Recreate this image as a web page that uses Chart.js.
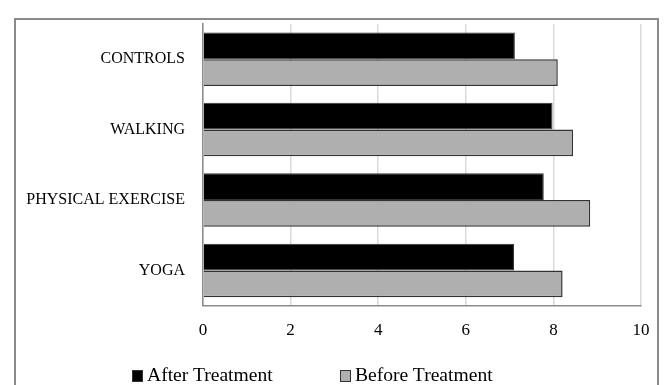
<!DOCTYPE html>
<html>
<head>
<meta charset="utf-8">
<script src="https://cdn.jsdelivr.net/npm/chart.js@4.4.0/dist/chart.umd.min.js"></script>
<style>
  html, body { margin: 0; padding: 0; background: #fff; }
  #wrap { position: relative; width: 665px; height: 385px; overflow: hidden; }
  #frame { position: absolute; left: 14px; top: 18px; width: 645px; height: 400px;
           border: 2px solid #8a8a8a; box-sizing: border-box; }
  #chart { position: absolute; left: 0; top: 0; }
  .leg { position: absolute; top: 364px; font-family: "Liberation Serif", serif;
         font-size: 19.6px; color: #000; white-space: nowrap; line-height: 22px; }
  .leg i { display: inline-block; width: 9px; height: 10px; border: 1px solid #333;
           margin-right: 4px; vertical-align: -1px; }
</style>
</head>
<body>
<div id="wrap">
  <div id="frame"></div>
  <canvas id="chart" width="665" height="385"></canvas>
  <div id="legend"></div>
</div>
<script>
// Datos
const categorias = ['CONTROLS', 'WALKING', 'PHYSICAL EXERCISE', 'YOGA'];
const despues = [7.12, 7.98, 7.78, 7.10];
const antes = [8.10, 8.45, 8.84, 8.21];
const ticksX = [0, 2, 4, 6, 8, 10];

const serif = "'Liberation Serif', serif";

const chart = new Chart(document.getElementById('chart'), {
    type: 'bar',
    data: {
        labels: categorias,
        datasets: [
            {
                label: 'After Treatment',
                data: despues,
                backgroundColor: '#000000',
                borderColor: '#333333',
                borderWidth: 1,
                categoryPercentage: 0.76,
                barPercentage: 1.0
            },
            {
                label: 'Before Treatment',
                data: antes,
                backgroundColor: '#afafaf',
                borderColor: '#333333',
                borderWidth: 1.5,
                categoryPercentage: 0.76,
                barPercentage: 1.0
            }
        ]
    },
    options: {
        indexAxis: 'y',
        responsive: false,
        animation: false,
        layout: { padding: { top: 24, right: 24, bottom: 29, left: 0 } },
        plugins: {
            legend: { display: false },
            tooltip: { enabled: false }
        },
        scales: {
            x: {
                min: 0,
                max: 10,
                afterBuildTicks: (axis) => { axis.ticks = ticksX.map(v => ({ value: v })); },
                grid: { color: '#d9d9d9', lineWidth: 1.5, drawTicks: false },
                border: { color: '#8c8c8c', width: 1.5 },
                ticks: { color: '#000', padding: 15, font: { family: serif, size: 17 } }
            },
            y: {
                afterFit: (scale) => {
                    scale.width = 203;
                    // el padding de las etiquetas no debe empujar el área del gráfico
                    scale.paddingTop = 0;
                    scale.paddingBottom = 0;
                },
                grid: { display: false, drawTicks: false },
                border: { color: '#8c8c8c', width: 1.5 },
                ticks: { color: '#000', padding: 18, font: { family: serif, size: 16 } }
            }
        }
    }
});

// Leyenda HTML según los datasets
const posLeyenda = [132, 340];
const legendDiv = document.getElementById('legend');
chart.data.datasets.forEach((ds, i) => {
    const item = document.createElement('div');
    item.className = 'leg';
    item.style.left = posLeyenda[i] + 'px';
    item.innerHTML = '<i style="background:' + ds.backgroundColor + '"></i>' + ds.label;
    legendDiv.appendChild(item);
});
</script>
</body>
</html>
